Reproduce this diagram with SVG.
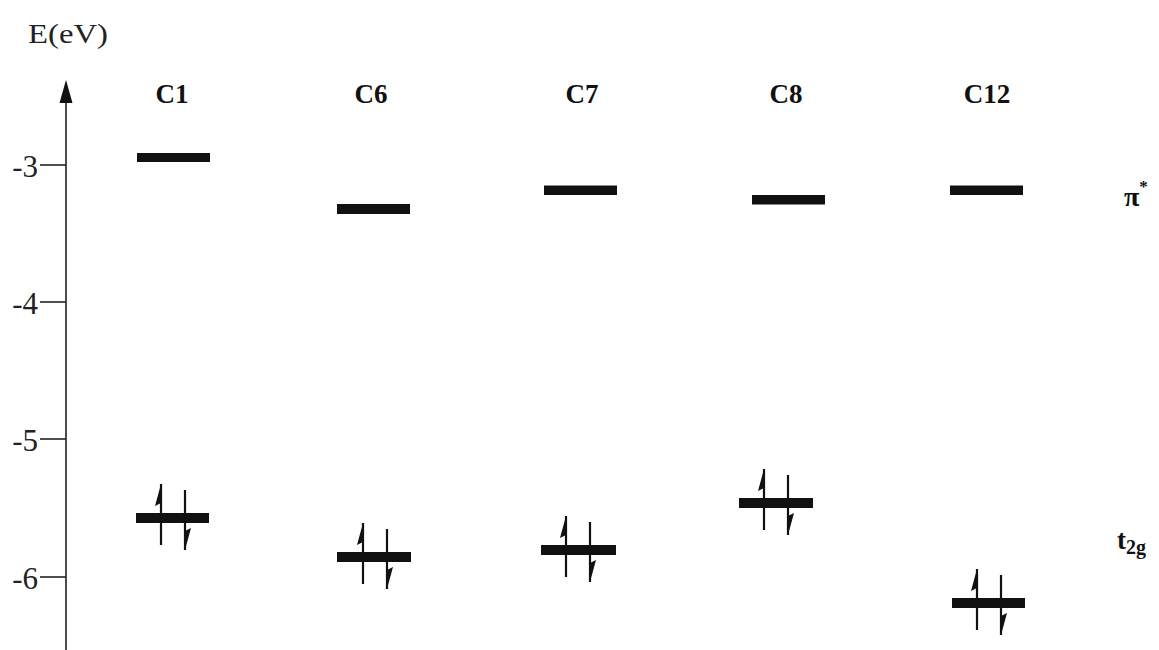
<svg xmlns="http://www.w3.org/2000/svg" width="1159" height="650" viewBox="0 0 1159 650">
<style>
.ax{stroke:#222;stroke-width:1.6;fill:none}
.tick{font-family:"Liberation Serif",serif;font-size:31px;fill:#222;text-anchor:end}
.lab{font-family:"Liberation Serif",serif;font-size:27px;font-weight:bold;fill:#111;text-anchor:middle}
.bar{fill:#111}
.el{stroke:#111;stroke-width:2.2;fill:none}
.barb{fill:#111}
</style>
<defs>
<g id="pair">
<line class="el" x1="25" y1="-34" x2="25" y2="27"/>
<polygon class="barb" points="25,-34 19,-12 25,-15"/>
<line class="el" x1="49" y1="-28" x2="49" y2="32"/>
<polygon class="barb" points="49,32 55,10 49,13"/>
</g>
</defs>
<rect width="1159" height="650" fill="#fff"/>
<text x="28" y="43" font-family="Liberation Serif,serif" font-size="28" fill="#222" textLength="80" lengthAdjust="spacingAndGlyphs">E(eV)</text>
<g id="axis">
<line class="ax" x1="66" y1="650" x2="66" y2="98"/>
<polygon points="66,80 59.5,103 72.5,103" fill="#111"/>
<line class="ax" x1="40" y1="165" x2="66" y2="165"/>
<line class="ax" x1="40" y1="302" x2="66" y2="302"/>
<line class="ax" x1="40" y1="439" x2="66" y2="439"/>
<line class="ax" x1="40" y1="577" x2="66" y2="577"/>
<text class="tick" x="38" y="177">-3</text>
<text class="tick" x="38" y="314">-4</text>
<text class="tick" x="38" y="451">-5</text>
<text class="tick" x="38" y="589">-6</text>
</g>
<g id="C1">
<text class="lab" x="172" y="103">C1</text>
<rect class="bar" x="137" y="153" width="73" height="9"/>
<rect class="bar" x="136" y="513" width="73" height="10"/>
<use href="#pair" x="136" y="518"/>
</g>
<g id="C6">
<text class="lab" x="371" y="103">C6</text>
<rect class="bar" x="337" y="204" width="73" height="10"/>
<rect class="bar" x="337" y="552" width="74" height="10"/>
<use href="#pair" x="338" y="557"/>
</g>
<g id="C7">
<text class="lab" x="582" y="103">C7</text>
<rect class="bar" x="544" y="185.5" width="73" height="9.5"/>
<rect class="bar" x="541" y="545" width="75" height="10"/>
<use href="#pair" x="541" y="550"/>
</g>
<g id="C8">
<text class="lab" x="786" y="103">C8</text>
<rect class="bar" x="752" y="195" width="73" height="9.5"/>
<rect class="bar" x="739" y="498" width="74" height="10"/>
<use href="#pair" x="739" y="503"/>
</g>
<g id="C12">
<text class="lab" x="987" y="103">C12</text>
<rect class="bar" x="950" y="185.5" width="73" height="9.5"/>
<rect class="bar" x="952" y="598" width="73" height="10"/>
<use href="#pair" x="952" y="603"/>
</g>
<g id="labels">
<text x="1124" y="206" font-family="Liberation Serif,serif" font-size="28" font-weight="bold" fill="#111">π<tspan dy="-14" font-size="17">*</tspan></text>
<text x="1117" y="549" font-family="Liberation Serif,serif" font-size="27" font-weight="bold" fill="#111">t<tspan dy="5" font-size="20">2g</tspan></text>
</g>
</svg>
